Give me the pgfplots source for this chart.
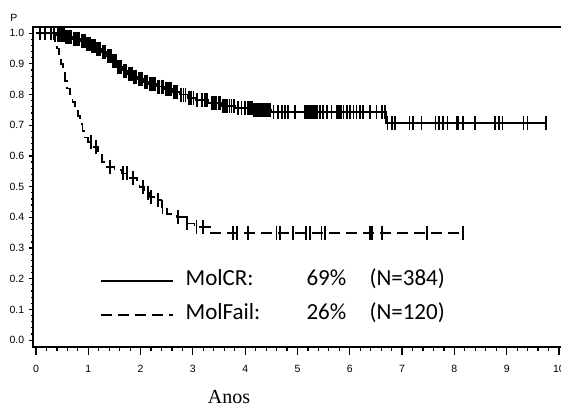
\documentclass[border=0pt]{standalone}
\usepackage{fontspec}
\setmainfont{Liberation Sans}
\newfontfamily\carlito{Carlito}
\newfontfamily\timesf{Liberation Serif}
\usepackage{pgfplots}
\pgfplotsset{compat=1.18}
\begin{document}
\begin{tikzpicture}
\begin{axis}[
  scale only axis,
  width=531.2pt, height=320.2pt,
  xmin=-0.057, xmax=10.1,
  ymin=-0.023, ymax=1.02,
  xtick={0,1,2,3,4,5,6,7,8,9,10},
  xticklabels={0,1,2,3,4,5,6,7,8,9,10},
  ytick={0,0.1,0.2,0.3,0.4,0.5,0.6,0.7,0.8,0.9,1.0},
  yticklabels={0.0,0.1,0.2,0.3,0.4,0.5,0.6,0.7,0.8,0.9,1.0},
  minor x tick num=4, minor y tick num=4,
  tick pos=left, tick align=outside,
  xtick style={line width=1.2pt, black, /pgfplots/major tick length=8pt, /pgfplots/minor tick length=4pt},
  ytick style={line width=1.2pt, black, /pgfplots/major tick length=4pt, /pgfplots/minor tick length=2pt},
  axis line style={line width=1.6pt},
  ticklabel style={font=\fontsize{10.5}{12}\selectfont},
  /pgf/number format/assume math mode=true,
  xticklabel style={yshift=-10pt},
  yticklabel style={xshift=-1pt},
  legend style={draw=none, fill=none, at={(axis cs:1.22,0.138)}, anchor=west,
     inner sep=0pt, outer sep=0pt,
     font=\carlito\fontsize{23}{26}\selectfont, row sep=12pt,
     nodes={inner sep=0pt, outer sep=0pt, text height=16pt, text depth=6pt}},
  legend cell align=left,
  legend image code/.code={\draw[#1] (0pt,0pt) -- (72pt,0pt);},
  clip=false,
]
% MolCR step
\addplot[const plot, black, line width=1.8pt] coordinates {
(0,1.000) (0.40,0.995) (0.55,0.988) (0.70,0.982) (0.85,0.974) (0.95,0.966)
(1.05,0.958) (1.15,0.948) (1.25,0.938) (1.35,0.925) (1.45,0.908) (1.55,0.890)
(1.65,0.878) (1.75,0.868) (1.85,0.858) (1.95,0.850) (2.05,0.842) (2.15,0.834)
(2.30,0.826) (2.45,0.818) (2.60,0.809) (2.75,0.800) (2.90,0.790) (3.05,0.782)
(3.30,0.772) (3.55,0.762) (3.80,0.755) (4.15,0.749) (4.50,0.743) (6.70,0.707)
(9.75,0.707)};
\addlegendentry{\hspace*{12pt}\makebox[121pt][l]{MolCR:}\makebox[63pt][l]{69\%}(N=384)}
% MolFail step
\addplot[const plot, black, line width=1.8pt, dash pattern=on 11pt off 6pt] coordinates {
(0,1.0) (0.36,0.975) (0.40,0.95) (0.44,0.925) (0.48,0.90) (0.52,0.87)
(0.56,0.845) (0.60,0.82) (0.65,0.80) (0.70,0.775) (0.75,0.755) (0.80,0.73)
(0.84,0.705) (0.89,0.68) (0.94,0.66) (1.00,0.645) (1.10,0.63) (1.18,0.61)
(1.26,0.58) (1.36,0.565) (1.50,0.553) (1.65,0.543) (1.80,0.527) (1.93,0.51)
(1.98,0.50) (2.06,0.48) (2.18,0.466) (2.30,0.456) (2.40,0.433) (2.50,0.41)
(2.70,0.40) (2.85,0.38) (3.03,0.368) (3.32,0.349) (8.17,0.349)};
\addlegendentry{\hspace*{12pt}\makebox[121pt][l]{MolFail:}\makebox[63pt][l]{26\%}(N=120)}
% MolCR censored
\addplot[only marks, mark=|, mark size=7pt, mark options={line width=1.8pt, black}, forget plot] coordinates {
(0.08,1.0) (0.18,1.0) (0.28,1.0) (0.34,1.0)
(0.42,0.995) (0.45,0.995) (0.48,0.995) (0.51,0.995) (0.53,0.995)
(0.57,0.988) (0.60,0.988) (0.63,0.988) (0.66,0.988) (0.68,0.988)
(0.72,0.982) (0.75,0.982) (0.78,0.982) (0.81,0.982) (0.83,0.982)
(0.87,0.974) (0.90,0.974) (0.93,0.974)
(0.97,0.966) (1.00,0.966) (1.03,0.966)
(1.07,0.958) (1.10,0.958) (1.13,0.958)
(1.17,0.948) (1.20,0.948) (1.23,0.948)
(1.27,0.938) (1.30,0.938) (1.33,0.938)
(1.37,0.925) (1.40,0.925) (1.43,0.925)
(1.47,0.908) (1.50,0.908) (1.53,0.908)
(1.57,0.890) (1.60,0.890) (1.63,0.890)
(1.68,0.878) (1.72,0.878)
(1.77,0.868) (1.80,0.868) (1.83,0.868)
(1.88,0.858) (1.92,0.858)
(1.97,0.850) (2.00,0.850) (2.03,0.850)
(2.08,0.842) (2.12,0.842)
(2.18,0.834) (2.21,0.834) (2.24,0.834) (2.27,0.834)
(2.33,0.826) (2.36,0.826) (2.40,0.826) (2.43,0.826)
(2.48,0.818) (2.52,0.818) (2.55,0.818) (2.58,0.818)
(2.63,0.809) (2.66,0.809) (2.70,0.809)
(2.78,0.800) (2.82,0.800) (2.86,0.800)
(2.93,0.790) (2.97,0.790) (3.01,0.790)
(3.08,0.782) (3.17,0.782) (3.23,0.782) (3.27,0.782)
(3.36,0.772) (3.40,0.772) (3.44,0.772) (3.49,0.772) (3.52,0.772)
(3.58,0.762) (3.62,0.762) (3.66,0.762) (3.70,0.762) (3.74,0.762) (3.78,0.762)
(3.87,0.755) (3.93,0.755) (4.00,0.755) (4.06,0.755) (4.09,0.755) (4.13,0.755)
(4.17,0.749) (4.21,0.749) (4.25,0.749) (4.28,0.749) (4.32,0.749) (4.36,0.749) (4.40,0.749) (4.44,0.749) (4.48,0.749)
(4.54,0.743) (4.63,0.743) (4.70,0.743) (4.76,0.743) (4.82,0.743) (4.95,0.743)
(5.15,0.743) (5.18,0.743) (5.21,0.743) (5.24,0.743) (5.27,0.743) (5.30,0.743) (5.33,0.743) (5.37,0.743)
(5.43,0.743) (5.49,0.743) (5.56,0.743) (5.65,0.743)
(5.75,0.743) (5.78,0.743) (5.81,0.743) (5.84,0.743) (5.88,0.743)
(5.94,0.743) (6.00,0.743) (6.07,0.743) (6.13,0.743) (6.20,0.743) (6.25,0.743)
(6.39,0.743) (6.51,0.743) (6.61,0.743) (6.67,0.743)
(6.72,0.707) (6.80,0.707) (6.86,0.707) (7.14,0.707) (7.21,0.707) (7.37,0.707)
(7.64,0.707) (7.71,0.707) (7.79,0.707) (7.87,0.707) (8.04,0.707) (8.07,0.707)
(8.16,0.707) (8.40,0.707) (8.77,0.707) (8.85,0.707) (8.92,0.707) (9.32,0.707)
(9.40,0.707) (9.75,0.707)};
% MolFail censored
\addplot[only marks, mark=|, mark size=7pt, mark options={line width=1.8pt, black}, forget plot] coordinates {
(1.05,0.645) (1.14,0.63) (1.41,0.565) (1.67,0.543) (1.74,0.543) (1.86,0.527)
(2.04,0.50) (2.14,0.48) (2.20,0.466) (2.33,0.456) (2.42,0.433) (2.71,0.40)
(2.88,0.38) (3.07,0.368) (3.20,0.368)
(3.77,0.349) (3.85,0.349) (4.06,0.349) (4.60,0.349) (4.67,0.349) (4.92,0.349)
(5.16,0.349) (5.24,0.349) (5.46,0.349) (5.53,0.349) (6.39,0.349) (6.42,0.349)
(6.61,0.349) (7.47,0.349) (8.17,0.349)};
\node[font=\fontsize{10.5}{12}\selectfont, anchor=center] at ([shift={(-19pt,9pt)}]rel axis cs:0,1) {P};
\node[font=\timesf\fontsize{20}{24}\selectfont, anchor=base] at ([shift={(0pt,-56pt)}]rel axis cs:0.369,0) {Anos};
\end{axis}
\pgfresetboundingbox
\useasboundingbox ([shift={(-33pt,-63pt)}]current axis.south west) rectangle ([shift={(528pt,27pt)}]current axis.north west);
\end{tikzpicture}
\end{document}
